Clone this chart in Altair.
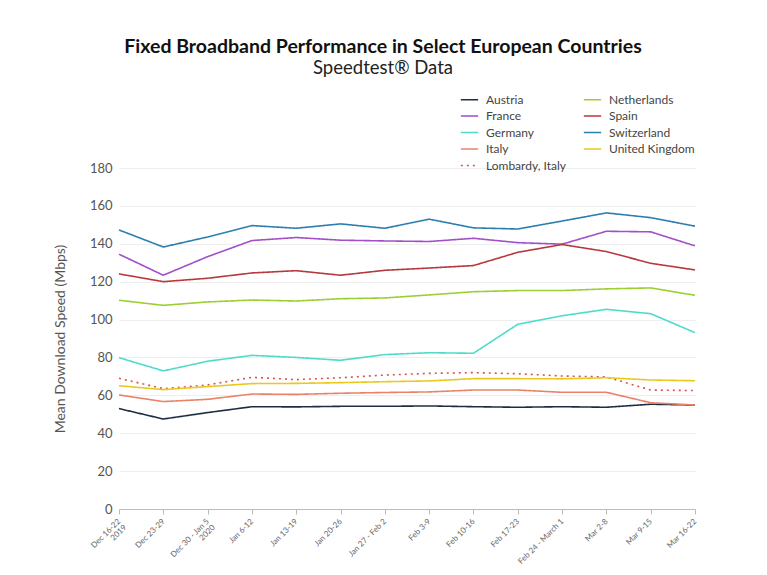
import altair as alt
import pandas as pd

weeks = ["Dec 16-22\n2019", "Dec 23-29", "Dec 30 - Jan 5\n2020", "Jan 6-12", "Jan 13-19",
         "Jan 20-26", "Jan 27 - Feb 2", "Feb 3-9", "Feb 10-16", "Feb 17-23",
         "Feb 24 - March 1", "Mar 2-8", "Mar 9-15", "Mar 16-22"]

austria = [53.0, 47.5, 50.9, 54.0, 53.9, 54.2, 54.2, 54.4, 54.0, 53.7, 54.0, 53.7, 55.3, 54.9]
france = [134.5, 123.4, 133.2, 141.7, 143.3, 141.9, 141.5, 141.2, 142.9, 140.6, 139.8, 146.6, 146.3, 138.9]
germany = [79.9, 72.9, 78.0, 81.1, 80.0, 78.5, 81.5, 82.5, 82.2, 97.5, 102.0, 105.4, 103.1, 93.1]
italy = [60.2, 56.7, 57.9, 60.7, 60.5, 61.1, 61.5, 61.8, 62.8, 62.8, 61.6, 61.6, 56.1, 54.9]
lombardy = [69.0, 63.5, 65.5, 69.5, 68.3, 69.3, 70.7, 71.6, 72.0, 71.4, 70.2, 69.7, 62.8, 62.5]
netherlands = [110.2, 107.5, 109.3, 110.3, 109.8, 111.0, 111.4, 113.0, 114.7, 115.3, 115.3, 116.2, 116.7, 112.8]
spain = [124.1, 120.0, 121.8, 124.6, 125.8, 123.4, 126.0, 127.2, 128.5, 135.5, 139.6, 135.9, 129.7, 126.2]
switzerland = [147.3, 138.3, 143.6, 149.6, 148.2, 150.5, 148.2, 153.0, 148.4, 147.8, 152.0, 156.3, 153.8, 149.3]
uk = [65.1, 63.0, 64.6, 66.2, 66.3, 66.7, 67.2, 67.6, 68.8, 68.8, 68.7, 69.3, 68.1, 67.7]

series = {
    "Austria": austria, "France": france, "Germany": germany, "Italy": italy,
    "Lombardy, Italy": lombardy, "Netherlands": netherlands, "Spain": spain,
    "Switzerland": switzerland, "United Kingdom": uk,
}
colors = {
    "Austria": "#1d2d44", "France": "#a24fc9", "Germany": "#4fdbc9", "Italy": "#e8836a",
    "Lombardy, Italy": "#d2574a", "Netherlands": "#9ccf32", "Spain": "#b5393d",
    "Switzerland": "#2b7fae", "United Kingdom": "#ebc81e",
}
legend_order = list(series.keys())
dashes = {k: [1, 0] for k in legend_order}
dashes["Lombardy, Italy"] = [2, 4]

rows = []
for name, vals in series.items():
    for w, v in zip(weeks, vals):
        rows.append({"week": w, "country": name, "speed": v})
df = pd.DataFrame(rows)

FONT = "Lato"

legend_kw = dict(title=None, orient="none", legendX=341, legendY=-78,
                 columns=2, columnPadding=14, symbolType="stroke",
                 symbolSize=300, symbolStrokeWidth=1.6,
                 labelFontSize=12, labelColor="#444", rowPadding=0.5,
                 labelLimit=200, labelOffset=7)

chart = alt.Chart(df).mark_line(strokeWidth=1.6).encode(
    x=alt.X("week:N", sort=weeks, title=None,
            scale=alt.Scale(padding=0),
            axis=alt.Axis(labelAngle=-45, labelAlign="right", labelBaseline="middle",
                          labelExpr="split(datum.label, '\\n')",
                          labelFontSize=8, labelColor="#666", labelPadding=6,
                          labelLineHeight=8.5,
                          domainColor="#bbb", tickColor="#bbb", tickSize=5, grid=False)),
    y=alt.Y("speed:Q", title="Mean Download Speed (Mbps)",
            scale=alt.Scale(domain=[0, 180]),
            axis=alt.Axis(values=list(range(0, 181, 20)), labelFontSize=13, labelColor="#555",
                          titleFontSize=14, titleFontWeight="normal", titleColor="#555",
                          titlePadding=22, domain=False, ticks=False, labelPadding=7,
                          gridColor="#eeeeee")),
    color=alt.Color("country:N",
                    scale=alt.Scale(domain=legend_order, range=[colors[k] for k in legend_order]),
                    legend=alt.Legend(**legend_kw)),
    strokeDash=alt.StrokeDash("country:N",
                              scale=alt.Scale(domain=legend_order,
                                              range=[dashes[k] for k in legend_order]),
                              legend=alt.Legend(**legend_kw)),
).properties(
    width=576, height=341,
    autosize=alt.AutoSizeParams(type="none"),
    padding={"left": 119, "top": 168, "right": 72, "bottom": 66},
    title=alt.Title("Fixed Broadband Performance in Select European Countries",
                    subtitle="Speedtest® Data", anchor="middle", frame="group", dx=-24,
                    fontSize=19.5, fontWeight="bold", color="#111", subtitleFontSize=18.5,
                    subtitleColor="#222", subtitlePadding=1, offset=12),
).configure(font=FONT).configure_view(stroke=None)

chart.save("out.html", embed_options={"renderer": "svg", "actions": False})
